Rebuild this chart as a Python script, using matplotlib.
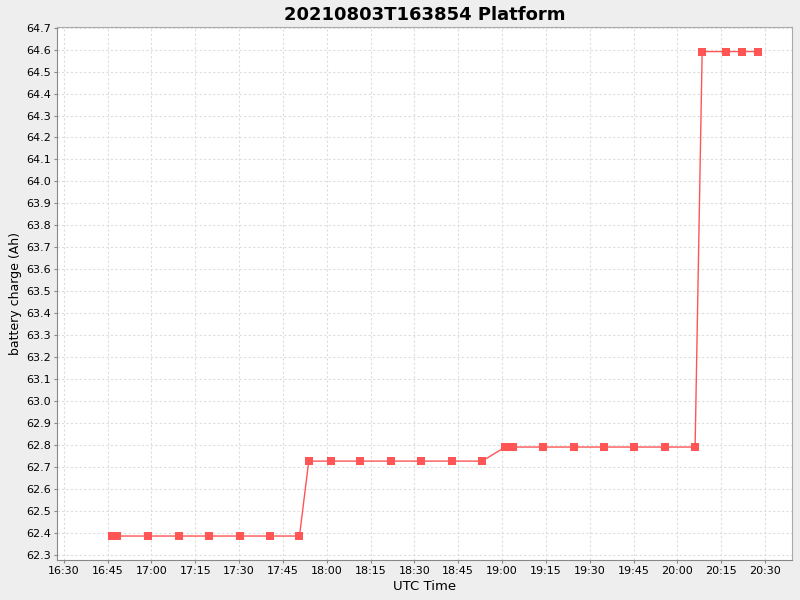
import numpy as np
import pandas as pd
import matplotlib
matplotlib.use("Agg")
import matplotlib.pyplot as plt
import matplotlib.dates as mdates

# sample times (UTC) and battery charge readings
times = ["16:46:25", "16:48:05", "16:58:40", "17:09:20", "17:19:35", "17:30:10",
         "17:40:25", "17:50:40", "17:53:50", "18:01:20", "18:11:30", "18:22:05",
         "18:32:25", "18:43:00", "18:53:10", "19:01:05", "19:03:50", "19:14:05",
         "19:24:40", "19:35:00", "19:45:10", "19:55:50", "20:06:05", "20:08:30",
         "20:16:40", "20:22:05", "20:27:35"]
charge = [62.386, 62.386, 62.386, 62.386, 62.386, 62.386, 62.386, 62.386,
          62.727, 62.727, 62.727, 62.727, 62.727, 62.727, 62.727,
          62.791, 62.791, 62.791, 62.791, 62.791, 62.791, 62.791, 62.791,
          64.591, 64.591, 64.591, 64.591]

t = pd.to_datetime(["2021-08-03 " + s for s in times])

fig = plt.figure(figsize=(8, 6), dpi=100, facecolor="#eeeeee")
ax = fig.add_axes([0.071, 0.0667, 0.919, 0.888])
ax.set_facecolor("white")

ax.plot(t, charge, color="#ff5555", linewidth=1, marker="s", markersize=6,
        markeredgewidth=0, zorder=3)

ax.set_xlim(pd.Timestamp("2021-08-03 16:27:36"), pd.Timestamp("2021-08-03 20:39:15"))
ax.set_ylim(62.277, 64.702)
ax.set_yticks(np.arange(62.3, 64.71, 0.1))
ax.yaxis.set_major_formatter(plt.FormatStrFormatter("%.1f"))
ax.xaxis.set_major_locator(mdates.MinuteLocator(byminute=[0, 15, 30, 45]))
ax.xaxis.set_major_formatter(mdates.DateFormatter("%H:%M"))

ax.grid(True, color="#dddddd", linestyle=(0, (2, 2)), linewidth=0.8)
ax.set_axisbelow(True)
for side in ["left", "bottom"]:
    ax.spines[side].set_color("#888888")
for side in ["right", "top"]:
    ax.spines[side].set_color("#aaaaaa")
ax.tick_params(labelsize=8, length=2, color="#888888", pad=2)

ax.set_xlabel("UTC Time", fontsize=9.5, labelpad=3)
ax.set_ylabel("battery charge (Ah)", fontsize=9, labelpad=3)
ax.set_title("20210803T163854 Platform", fontsize=13, fontweight="bold", pad=5)

fig.savefig("out.png", dpi=100, facecolor=fig.get_facecolor())
